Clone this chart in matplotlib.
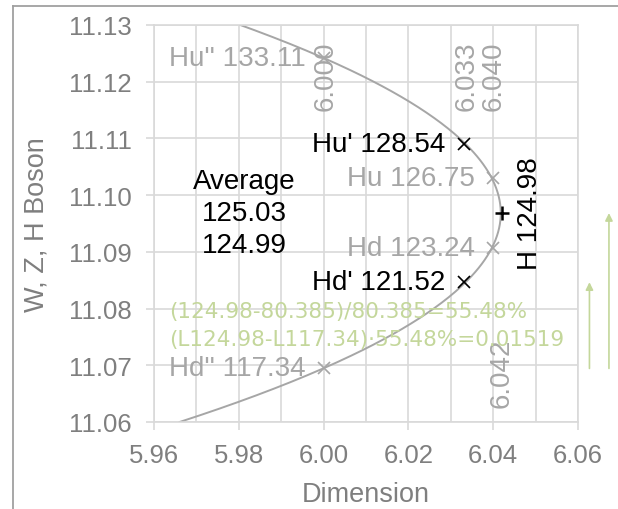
import numpy as np
import matplotlib
matplotlib.use("Agg")
import matplotlib.pyplot as plt
from matplotlib.lines import Line2D

plt.rcParams['font.family'] = ['Liberation Sans', 'DejaVu Sans']

# Higgs-like states: name, mass (GeV) and dimension
names = ["Hu''", "Hu'", "Hu", "Hd", "Hd'", "Hd''"]
masses = [133.11, 128.54, 126.75, 123.24, 121.52, 117.34]
dims = [6.000, 6.033, 6.040, 6.040, 6.033, 6.000]
emphasised = [False, True, False, False, True, False]

h_mass = 124.98
h_dim = 6.042

average_lines = ["Average", "125.03", "124.99"]
dim_labels = ["6.000", "6.033", "6.040", "6.042"]
formula_lines = ["(124.98-80.385)/80.385=55.48%",
                 "(L124.98-L117.34)\u00b755.48%=0.01519"]

xticks = [5.96, 5.98, 6.00, 6.02, 6.04, 6.06]
yticks = [11.06, 11.07, 11.08, 11.09, 11.10, 11.11, 11.12, 11.13]


def log_ev(m):
    """log10 of a mass given in GeV, expressed in eV."""
    return np.log10(np.asarray(m, dtype=float) * 1e9)


GRID = '#d9d9d9'
TICKTXT = '#7f7f7f'
LIGHT = '#a6a6a6'
GREEN = '#c4d79b'

fig = plt.figure(figsize=(6.18, 5.10), dpi=100)
ax = fig.add_axes([154 / 618, 1 - 423 / 510, 424 / 618, 397 / 510])
ax.set_xlim(5.96, 6.06)
ax.set_ylim(11.06, 11.13)

ax.set_xticks(xticks)
ax.set_xticks(np.arange(5.97, 6.06, 0.02), minor=True)
ax.set_yticks(yticks)
ax.set_xticklabels([f"{v:.2f}" for v in xticks])
ax.set_yticklabels([f"{v:.2f}" for v in yticks])
ax.grid(True, which='both', color=GRID, lw=1.2)
ax.set_axisbelow(True)
ax.tick_params(axis='both', which='major', direction='out', length=6, width=1.2,
               color=GRID, labelcolor=TICKTXT, labelsize=18.5)
ax.tick_params(axis='x', which='major', pad=9)
ax.tick_params(axis='y', which='major', pad=10)
ax.tick_params(axis='x', which='minor', length=0)
for s in ax.spines.values():
    s.set_color(GRID)
    s.set_linewidth(1.2)

ax.set_xlabel("Dimension", fontsize=19.5, color=TICKTXT, labelpad=10)
ax.set_ylabel("W, Z, H Boson", fontsize=19.5, color=TICKTXT, labelpad=14)

# Parabola through all states
ys = log_ev(masses)
all_y = np.append(ys, log_ev(h_mass))
all_x = np.append(dims, h_dim)
coef = np.polyfit(all_y, all_x, 2)
yy = np.linspace(11.06, 11.13, 300)
xx = np.polyval(coef, yy)
ax.plot(xx, yy, color=LIGHT, lw=1.4, zorder=2)

# States and their labels
for n, m, d, y, e in zip(names, masses, dims, ys, emphasised):
    c = 'black' if e else LIGHT
    ax.plot(d, y, marker='x', ms=8.5, mew=1.2, color=c, ls='none', zorder=3)
    ax.annotate(f"{n} {m:.2f}", (d, y), xytext=(-13, 0), textcoords='offset points',
                ha='right', va='center', fontsize=20, color=c, zorder=4)

y_h = log_ev(h_mass)
ax.plot(h_dim, y_h, marker='+', ms=10, mew=1.8, color='black', ls='none', zorder=3)
ax.annotate(f"H {h_mass:.2f}", (h_dim, y_h), xytext=(20.5, 0), textcoords='offset points',
            ha='center', va='center', rotation=90, fontsize=20, color='black')

ax.text(5.9812, y_h, "\n".join(average_lines), ha='center', va='center',
        multialignment='center', fontsize=20, color='black', linespacing=1.3)

# Dimension values written vertically
for lbl, x, y in zip(dim_labels, [6.0004, 6.0337, 6.0402, 6.042],
                     [11.1211, 11.1211, 11.1211, 11.0688]):
    ax.text(x, y, lbl, rotation=90, ha='center', va='center', fontsize=20, color=LIGHT)

ax.text(5.9635, 11.0796, formula_lines[0], ha='left', va='center', fontsize=15.5,
        color=GREEN, family=['DejaVu Sans'])
ax.text(5.9635, 11.0746, formula_lines[1], ha='left', va='center', fontsize=15.5,
        color=GREEN, family=['DejaVu Sans'])

# Mass gaps shown as arrows beside the plot
y_low = log_ev(masses[-1])
for xa, target in [(6.0627, log_ev(masses[4])), (6.0673, y_h)]:
    ax.annotate('', xy=(xa, target), xytext=(xa, y_low), annotation_clip=False,
                arrowprops=dict(arrowstyle='-|>', color=GREEN, lw=1.2,
                                mutation_scale=11, shrinkA=0, shrinkB=0))

# Outer chart frame
fig.add_artist(Line2D([13 / 618, 13 / 618], [0, 1 - 7 / 510], transform=fig.transFigure,
                      color='#a0a0a0', lw=1.3))
fig.add_artist(Line2D([13 / 618, 1], [1 - 7 / 510, 1 - 7 / 510], transform=fig.transFigure,
                      color='#a0a0a0', lw=1.3))

fig.savefig("out.png", dpi=100)
